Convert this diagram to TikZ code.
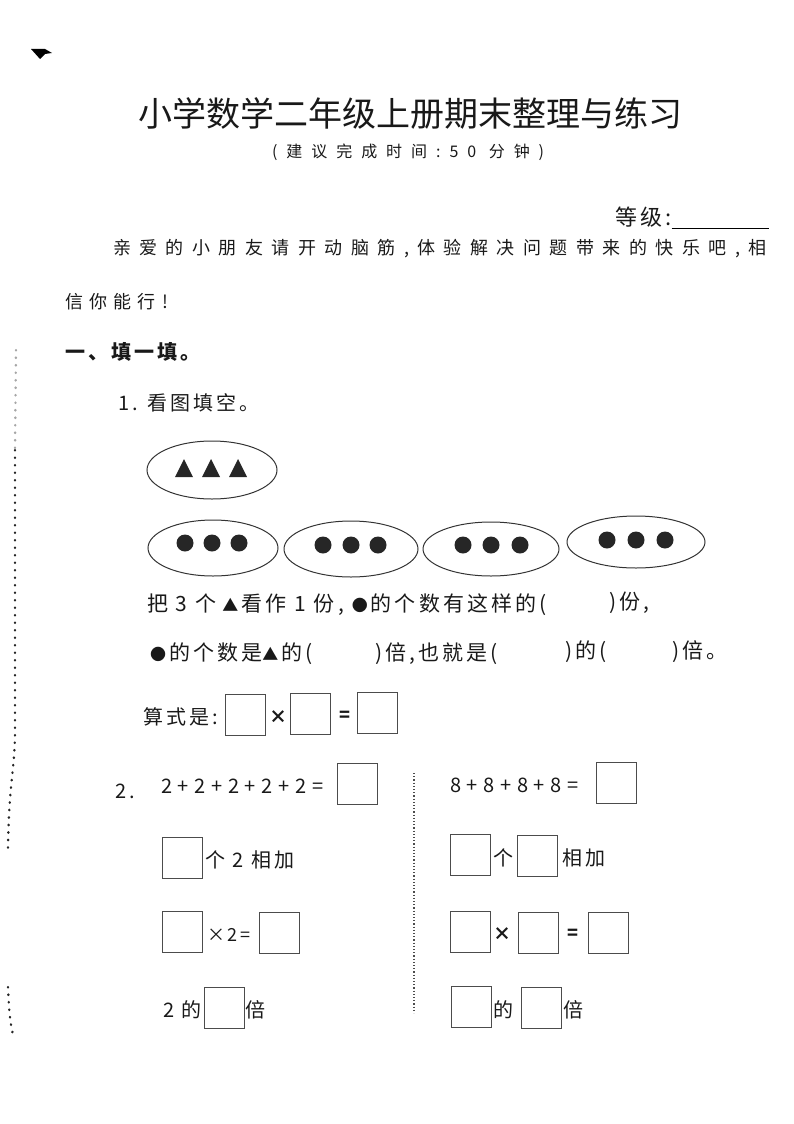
\documentclass[tikz,border=0pt]{standalone}
\usepackage{fontspec}
\setmainfont{Liberation Serif}
\newfontfamily\cjk{Noto Sans CJK SC}
\newfontfamily\cjkline[LetterSpace=15]{Noto Sans CJK SC}
\newfontfamily\cjkintro[LetterSpace=47]{Noto Sans CJK SC}
\newfontfamily\cjkwide[LetterSpace=35]{Noto Sans CJK SC}
\newfontfamily\cjksub[LetterSpace=56]{Noto Sans CJK SC}
\newfontfamily\cjksum[LetterSpace=6]{Noto Sans CJK SC}
\usepackage{tikz}

\newcommand{\smalltri}{{\fontsize{16}{16}\selectfont ▲}}
\newcommand{\smalldot}{{\fontsize{16}{16}\selectfont ●}}

\tikzset{
    ink/.style={text=black!90, inner sep=0pt, outer sep=0pt},
    title/.style={ink, font=\cjk\fontsize{34}{36}\selectfont},
    subtitle/.style={ink, anchor=west, font=\cjksub\fontsize{16}{18}\selectfont},
    bodytext/.style={ink, anchor=west, font=\cjkintro\fontsize{18}{20}\selectfont},
    line/.style={ink, anchor=west, font=\cjkline\fontsize{20}{22}\selectfont},
    sentence/.style={ink, anchor=west, font=\cjkline\fontsize{21}{22}\selectfont},
    sumtext/.style={ink, anchor=west, font=\cjksum\fontsize{20}{22}\selectfont},
    sign/.style={ink, font=\bfseries\cjk\fontsize{18}{18}\selectfont},
    answerbox/.style={draw=black!70, line width=0.9pt, minimum width=40pt, minimum height=41pt, inner sep=0pt},
    group/.style={draw=black!80, line width=1pt},
    dot/.style={circle, fill=black!85, minimum size=17pt, inner sep=0pt},
    edge/.style={black!70, line width=1.2pt, dotted},
    scanmark/.style={black!85, line width=2.4pt, line cap=round, dash pattern=on 0.5pt off 7pt},
}

\begin{document}
\begin{tikzpicture}[x=1pt, y=-1pt]
    \useasboundingbox (0,0) rectangle (794,1124);

    % Scan marks
    \fill[black] (31,49) -- (45,49) -- (52,53) -- (45,54) -- (40,59) -- cycle;
    \draw[scanmark, black!35] (16,350) -- (15,450);
    \draw[scanmark] (15,450) -- (15,730) .. controls (15,770) and (9,780) .. (8,848);
    \draw[scanmark] (8,987) .. controls (9,1010) and (10,1025) .. (14,1038);

    % Heading
    \node[title] (title) at (410,114) {小学数学二年级上册期末整理与练习};
    \node[subtitle] (subtitle) at (272,152) {(建议完成时间:50 分钟)};
    \node[line, font=\cjkline\fontsize{22}{22}\selectfont] (grade) at (615,217) {等级:};
    \coordinate (gradeend) at (769,228);
    \draw[line width=0.9pt] (grade.east |- gradeend) -- (gradeend);

    % Intro
    \node[bodytext] (intro) at (113,249) {亲爱的小朋友请开动脑筋,体验解决问题带来的快乐吧,相};
    \node[bodytext, font=\cjkwide\fontsize{18}{20}\selectfont] (introtwo) at (65,302) {信你能行!};
    \node[line, font=\bfseries\cjkline\fontsize{20}{22}\selectfont] (partone) at (65,352) {一、填一填。};
    \node[line] (qone) at (118,403) {1. 看图填空。};

    % Groups
    \draw[group] (212,470) ellipse (65 and 29);
    \draw[group] (213,548) ellipse (65 and 28);
    \draw[group] (351,549) ellipse (67 and 28);
    \draw[group] (491,549) ellipse (68 and 27);
    \draw[group] (636,542) ellipse (69 and 26);
    \foreach \tx in {184,211,238}
        \fill[black!85] (\tx-9,477) -- (\tx,459) -- (\tx+9,477) -- cycle;
    \foreach \dx/\dy in {185/543,212/543,239/543,323/545,351/545,378/545,463/545,491/545,520/545,607/540,636/540,665/540}
        \node[dot] at (\dx,\dy) {};

    % Sentences
    \node[sentence] (sa) at (147,605) {把 3 个\hspace{6pt}\smalltri\hspace{3pt}看作 1 份,\hspace{8pt}\smalldot\hspace{3pt}的个数有这样的(};
    \node[sentence] (sb) at (609,603) {)份,};
    \node[sentence] (sc) at (150,654) {\smalldot\hspace{3pt}的个数是\smalltri\hspace{3pt}的(};
    \node[sentence] (sd) at (375,654) {)倍,也就是(};
    \node[sentence] (se) at (565,652) {)的(};
    \node[sentence] (sf) at (672,652) {)倍。};

    % Equation
    \node[line] (suanshi) at (143,717) {算式是:};
    \node[answerbox] (ba) at (245,715) {};
    \node[sign] (times) at (278,717) {×};
    \node[answerbox] (bb) at (310,714) {};
    \node[sign] (equals) at (345,716) {=};
    \node[answerbox] (bc) at (377,713) {};

    % Part two
    \draw[edge] (414,773) coordinate (sepa) -- (sepa |- 0,1013) coordinate (sepb);
    \node[line] (qtwo) at (115,791) {2.};
    \node[sumtext] (suml) at (161,786) {2 + 2 + 2 + 2 + 2 =};
    \node[answerbox] (bd) at (357,784) {};
    \node[answerbox] (be) at (182,858) {};
    \node[line] (lb) at (205,860) {个 2 相加};
    \node[answerbox] (bf) at (182,932) {};
    \node[sumtext, font=\cjk\fontsize{18}{18}\selectfont] (lc) at (207,935) {×\hspace{3pt}2\hspace{3pt}=};
    \node[answerbox] (bg) at (279,933) {};
    \node[line] (ld) at (163,1010) {2 的};
    \node[answerbox] (bh) at (224,1008) {};
    \node[line] (le) at (245,1010) {倍};

    \node[sumtext] (sumr) at (450,785) {8 + 8 + 8 + 8 =};
    \node[answerbox] (bi) at (616,783) {};
    \node[answerbox] (bj) at (470,855) {};
    \node[line] (rb) at (493,858) {个};
    \node[answerbox] (bk) at (537,856) {};
    \node[line] (rc) at (562,858) {相加};
    \node[answerbox] (bl) at (470,932) {};
    \node[sign] (rtimes) at (502,934) {×};
    \node[answerbox] (bm) at (538,933) {};
    \node[sign] (requals) at (573,934) {=};
    \node[answerbox] (bn) at (608,933) {};
    \node[answerbox] (bo) at (471,1007) {};
    \node[line] (rd) at (493,1010) {的};
    \node[answerbox] (bp) at (541,1008) {};
    \node[line] (re) at (563,1010) {倍};
\end{tikzpicture}
\end{document}
